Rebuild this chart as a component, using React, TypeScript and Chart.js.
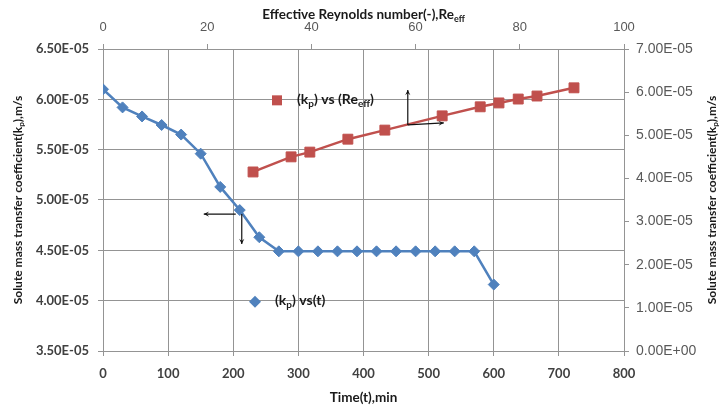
import React, { useEffect, useRef } from 'react';
import { Chart, registerables } from 'chart.js';

Chart.register(...registerables);

// ---- data ----
const timeMin = [0, 30, 60, 90, 120, 150, 180, 210, 240, 270, 300, 330, 360, 390, 420, 450, 480, 510, 540, 570, 600];
const kpVsTime = [
  6.10e-5, 5.92e-5, 5.83e-5, 5.745e-5, 5.65e-5, 5.46e-5, 5.13e-5, 4.90e-5, 4.63e-5,
  4.49e-5, 4.49e-5, 4.49e-5, 4.49e-5, 4.49e-5, 4.49e-5, 4.49e-5, 4.49e-5, 4.49e-5, 4.49e-5, 4.49e-5,
  4.16e-5,
];
const reEff = [28.8, 36.1, 39.7, 47.0, 54.1, 65.1, 72.4, 76.0, 79.7, 83.3, 90.4];
const kpVsRe = [4.15e-5, 4.50e-5, 4.61e-5, 4.91e-5, 5.12e-5, 5.45e-5, 5.66e-5, 5.75e-5, 5.84e-5, 5.91e-5, 6.10e-5];

const timeTicks = [0, 100, 200, 300, 400, 500, 600, 700, 800];
const reTicks = [0, 20, 40, 60, 80, 100];
const kpLeftTicks = [3.5e-5, 4.0e-5, 4.5e-5, 5.0e-5, 5.5e-5, 6.0e-5, 6.5e-5];
const kpRightTicks = [0, 1e-5, 2e-5, 3e-5, 4e-5, 5e-5, 6e-5, 7e-5];

const seriesTimeLabel = [{ t: '(k' }, { t: 'p', sub: true }, { t: ') vs(t)' }];
const seriesReLabel = [{ t: '(k' }, { t: 'p', sub: true }, { t: ') vs (Re' }, { t: 'eff', sub: true }, { t: ')' }];
const yTitle = [{ t: 'Solute mass transfer coefficient(k' }, { t: 'p', sub: true }, { t: '),m/s' }];
const xTitle = [{ t: 'Time(t),min' }];
const x2Title = [{ t: 'Effective Reynolds number(-),Re' }, { t: 'eff', sub: true }];

const BLUE = '#4F81BD';
const RED = '#C0504D';
const GRID = '#949494';
const TITLE_FONT = 'Lato';

function fmtExp(v: number): string {
  const s = v.toExponential(2);
  const [m, e] = s.split('e');
  const n = parseInt(e, 10);
  const sign = n < 0 ? '-' : '+';
  const a = Math.abs(n);
  return `${m}E${sign}${a < 10 ? '0' + a : a}`;
}

type Seg = { t: string; sub?: boolean };

function richWidth(ctx: CanvasRenderingContext2D, segs: Seg[], size: number) {
  let w = 0;
  for (const s of segs) {
    ctx.font = `bold ${s.sub ? Math.round(size * 0.7) : size}px ${TITLE_FONT}`;
    w += ctx.measureText(s.t).width;
  }
  return w;
}

function drawRich(
  ctx: CanvasRenderingContext2D,
  segs: Seg[],
  x: number,
  y: number,
  size: number,
  align: 'left' | 'center',
  rotate = 0,
  color = '#1a1a1a'
) {
  ctx.save();
  ctx.translate(x, y);
  if (rotate) ctx.rotate(rotate);
  ctx.fillStyle = color;
  ctx.textBaseline = 'middle';
  ctx.textAlign = 'left';
  const w = richWidth(ctx, segs, size);
  let cx = align === 'center' ? -w / 2 : 0;
  for (const s of segs) {
    const fs = s.sub ? Math.round(size * 0.7) : size;
    ctx.font = `bold ${fs}px ${TITLE_FONT}`;
    ctx.fillText(s.t, cx, s.sub ? size * 0.3 : 0);
    cx += ctx.measureText(s.t).width;
  }
  ctx.restore();
}

function arrow(ctx: CanvasRenderingContext2D, x1: number, y1: number, x2: number, y2: number) {
  const ang = Math.atan2(y2 - y1, x2 - x1);
  const h = 6;
  ctx.save();
  ctx.strokeStyle = '#111';
  ctx.fillStyle = '#111';
  ctx.lineWidth = 1.2;
  ctx.beginPath();
  ctx.moveTo(x1, y1);
  ctx.lineTo(x2, y2);
  ctx.stroke();
  ctx.beginPath();
  ctx.moveTo(x2, y2);
  ctx.lineTo(x2 - h * Math.cos(ang - 0.45), y2 - h * Math.sin(ang - 0.45));
  ctx.lineTo(x2 - h * 0.5 * Math.cos(ang), y2 - h * 0.5 * Math.sin(ang));
  ctx.lineTo(x2 - h * Math.cos(ang + 0.45), y2 - h * Math.sin(ang + 0.45));
  ctx.closePath();
  ctx.fill();
  ctx.restore();
}

const decor = {
  id: 'decor',
  afterDraw(chart: any) {
    const { ctx, chartArea, scales } = chart;
    const { x, x2, y, y2 } = scales;
    const midX = (chartArea.left + chartArea.right) / 2;
    const midY = (chartArea.top + chartArea.bottom) / 2;

    // axis titles
    drawRich(ctx, yTitle, 18, midY, 12, 'center', -Math.PI / 2);
    drawRich(ctx, yTitle, 712, midY, 12, 'center', -Math.PI / 2);
    drawRich(ctx, xTitle, midX, 398, 13.5, 'center');
    drawRich(ctx, x2Title, midX, 15, 13.5, 'center');

    // legend entries (placed inside plot)
    ctx.save();
    ctx.fillStyle = RED;
    const rx = chartArea.left + 174;
    const ry = y.getPixelForValue(6.0e-5) + 1;
    ctx.fillRect(rx - 5, ry - 5, 10, 10);
    ctx.restore();
    drawRich(ctx, seriesReLabel, rx + 20, ry - 1, 14, 'left');

    ctx.save();
    ctx.fillStyle = BLUE;
    const bx = chartArea.left + 152;
    const by = y.getPixelForValue(4.0e-5) + 1;
    ctx.beginPath();
    ctx.moveTo(bx, by - 6);
    ctx.lineTo(bx + 6, by);
    ctx.lineTo(bx, by + 6);
    ctx.lineTo(bx - 6, by);
    ctx.closePath();
    ctx.fill();
    ctx.restore();
    drawRich(ctx, seriesTimeLabel, bx + 20, by - 1, 14, 'left');

    // arrows: blue series -> left & bottom axes
    const ax = x.getPixelForValue(210);
    const ay = y.getPixelForValue(4.86e-5);
    arrow(ctx, ax - 4, ay, ax - 36, ay);
    arrow(ctx, ax + 2, ay, ax + 2, ay + 30);

    // arrows: red series -> top & right axes
    const rx2 = x2.getPixelForValue(58.5);
    const ry2 = y2.getPixelForValue(5.24e-5);
    arrow(ctx, rx2, ry2, rx2, ry2 - 35);
    arrow(ctx, rx2, ry2, rx2 + 36, ry2 - 2);
  },
};

export default function App() {
  const ref = useRef<HTMLCanvasElement | null>(null);

  useEffect(() => {
    if (!ref.current) return;
    const chart = new Chart(ref.current, {
      type: 'scatter',
      data: {
        datasets: [
          {
            label: '(kp) vs(t)',
            data: timeMin.map((t, i) => ({ x: t, y: kpVsTime[i] })),
            xAxisID: 'x',
            yAxisID: 'y',
            showLine: true,
            borderColor: BLUE,
            backgroundColor: BLUE,
            borderWidth: 2.5,
            pointStyle: 'rectRot',
            pointRadius: 5.5,
            pointBorderWidth: 1,
            tension: 0,
          },
          {
            label: '(kp) vs (Reeff)',
            data: reEff.map((r, i) => ({ x: r, y: kpVsRe[i] })),
            xAxisID: 'x2',
            yAxisID: 'y2',
            showLine: true,
            borderColor: RED,
            backgroundColor: RED,
            borderWidth: 2.5,
            pointStyle: 'rect',
            pointRadius: 7,
            pointBorderWidth: 1,
            tension: 0,
          },
        ],
      },
      options: {
        responsive: false,
        animation: false,
        devicePixelRatio: 1,
        layout: { padding: 0 },
        plugins: { legend: { display: false }, tooltip: { enabled: false } },
        scales: {
          x: {
            type: 'linear',
            position: 'bottom',
            min: 0,
            max: 800,
            afterBuildTicks: (s: any) => { s.ticks = timeTicks.map((v) => ({ value: v })); },
            afterFit: (s: any) => { s.height = 59; },
            grid: { color: GRID, tickLength: 5, drawOnChartArea: true },
            border: { color: GRID },
            ticks: { color: '#404040', padding: 10, font: { family: TITLE_FONT, weight: 'bold', size: 13 } },
          },
          x2: {
            type: 'linear',
            position: 'top',
            min: 0,
            max: 100,
            afterBuildTicks: (s: any) => { s.ticks = reTicks.map((v) => ({ value: v })); },
            afterFit: (s: any) => { s.height = 49; },
            grid: { color: GRID, tickLength: 5, drawOnChartArea: false },
            border: { color: GRID },
            ticks: { color: '#595959', padding: 9, font: { family: 'Liberation Sans', size: 13 } },
          },
          y: {
            type: 'linear',
            position: 'left',
            min: 3.5e-5,
            max: 6.5e-5,
            afterBuildTicks: (s: any) => { s.ticks = kpLeftTicks.map((v) => ({ value: v })); },
            afterFit: (s: any) => { s.width = 103; },
            grid: { color: GRID, tickLength: 5 },
            border: { color: GRID },
            ticks: {
              color: '#404040',
              padding: 9,
              font: { family: TITLE_FONT, weight: 'bold', size: 13 },
              callback: (v: any) => fmtExp(Number(v)),
            },
          },
          y2: {
            type: 'linear',
            position: 'right',
            min: 0,
            max: 7e-5,
            afterBuildTicks: (s: any) => { s.ticks = kpRightTicks.map((v) => ({ value: v })); },
            afterFit: (s: any) => { s.width = 98; },
            grid: { color: GRID, tickLength: 5, drawOnChartArea: false },
            border: { color: GRID },
            ticks: {
              color: '#595959',
              padding: 7,
              font: { family: 'Liberation Sans', size: 14 },
              callback: (v: any) => fmtExp(Number(v)),
            },
          },
        },
      },
      plugins: [decor],
    });
    return () => chart.destroy();
  }, []);

  return (
    <div style={{ position: 'fixed', left: 0, top: 0, width: 722, height: 410, background: '#fff' }}>
      <canvas ref={ref} width={722} height={410} style={{ display: 'block', width: 722, height: 410 }} />
    </div>
  );
}
